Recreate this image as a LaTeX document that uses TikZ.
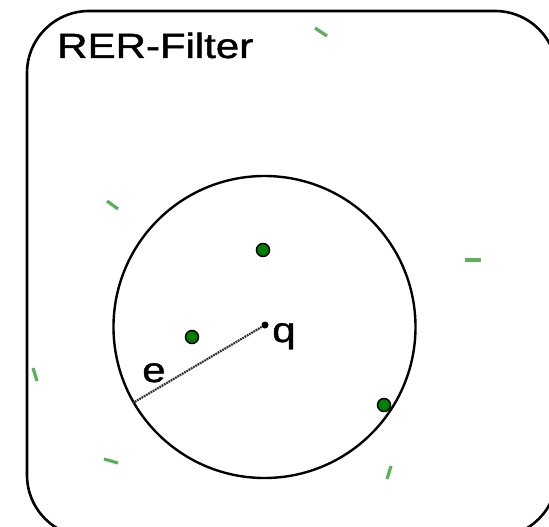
\documentclass[tikz,border=0pt]{standalone}
\usepackage{fontspec}
\setmainfont{Liberation Sans}
\newfontfamily\lblfont[FakeBold=1.2]{Liberation Sans}
\definecolor{dashgreen}{RGB}{92,178,92}
\definecolor{dotgreen}{RGB}{0,128,0}
\tikzset{
  frame/.style={draw=black, line width=2.6pt, rounded corners=62pt},
  ring/.style={circle, draw=black, line width=2.4pt, inner sep=0pt, minimum size=302pt},
  gdot/.style={circle, draw=black, fill=dotgreen, line width=1.5pt, inner sep=0pt, minimum size=13pt},
  qdot/.style={circle, fill=black, inner sep=0pt, minimum size=7pt},
  gdash/.style={draw=dashgreen, line width=3.2pt},
  radius line/.style={draw=black!80, line width=2.2pt, dash pattern=on 1.8pt off 0.8pt},
  lbl/.style={inner sep=0pt, font=\lblfont\fontsize{35}{42}\selectfont, xscale=1.2}
}
\begin{document}
\begin{tikzpicture}[x=1pt, y=-1pt]
\useasboundingbox (0,0) rectangle (549,527);
\draw[frame] (27,11) rectangle (557,537);
\node[lbl, anchor=base west] (title) at (57,58) {RER-Filter};
\node[ring] (circ) at (264.5,327) {};
\node[qdot] (q) at (265,325) {};
\coordinate (eend) at (circ.210);
\draw[radius line] (q) -- (eend);
\node[lbl, anchor=base west] (qlabel) at (272,342) {q};
\node[lbl, anchor=base west] (elabel) at (142,382) {e};
\node[gdot] (d1) at (263,250) {};
\node[gdot] (d2) at (192,337) {};
\node[gdot] (d3) at (384,405) {};
\coordinate (a1) at (315,28); \coordinate (a2) at (327,36);
\coordinate (b1) at (107,201); \coordinate (b2) at (118,209);
\coordinate (c1) at (465,260); \coordinate (c2) at (481,260);
\coordinate (f1) at (33,368); \coordinate (f2) at (37,381);
\coordinate (g1) at (104,459); \coordinate (g2) at (118,463);
\coordinate (h1) at (391,466); \coordinate (h2) at (387,479);
\draw[gdash] (a1) -- (a2);
\draw[gdash] (b1) -- (b2);
\draw[gdash] (c1) -- (c2);
\draw[gdash] (f1) -- (f2);
\draw[gdash] (g1) -- (g2);
\draw[gdash] (h1) -- (h2);
\end{tikzpicture}
\end{document}
